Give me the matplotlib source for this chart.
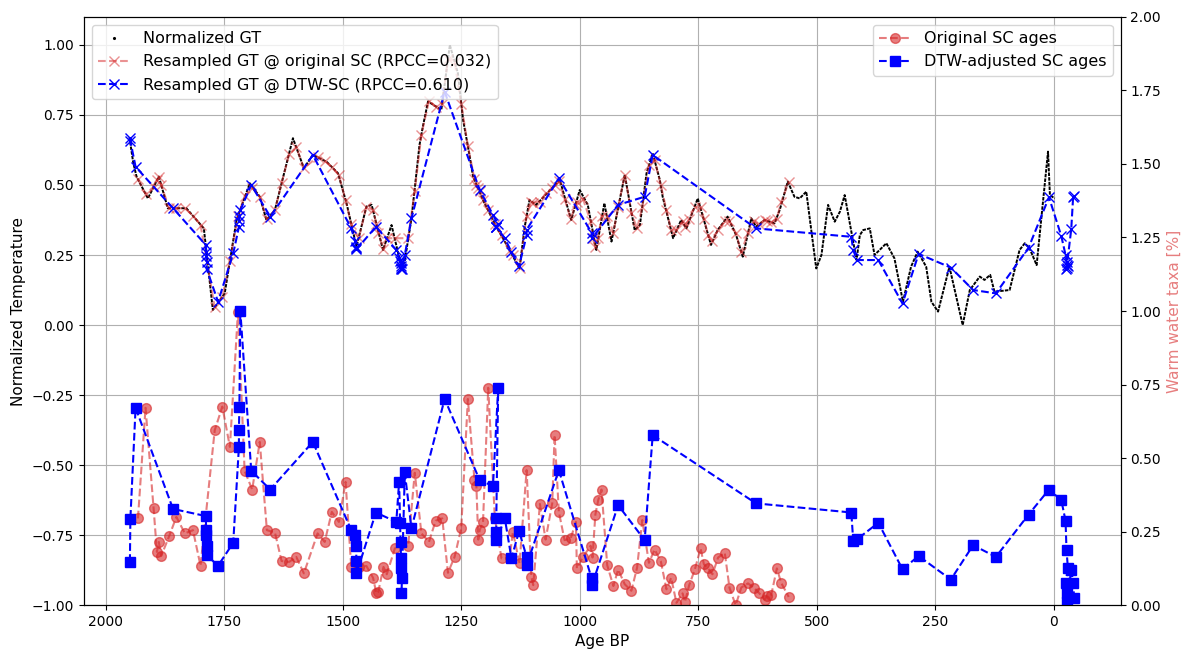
import matplotlib
matplotlib.use("Agg")
import matplotlib.pyplot as plt
from matplotlib.lines import Line2D

# Normalized GT (temperature) curve vertices
gt_age = [1950, 1942, 1935, 1911, 1888, 1869, 1830, 1793, 1774, 1749,
          1724, 1696, 1675, 1661, 1643, 1629, 1605, 1582, 1563, 1534,
          1510, 1492, 1471, 1450, 1439, 1415, 1397, 1383, 1376, 1369,
          1355, 1338, 1331, 1320, 1292, 1274, 1257, 1246, 1232, 1225,
          1204, 1176, 1148, 1127, 1116, 1106, 1092, 1042, 1018, 1000,
          983, 965, 948, 933, 905, 884, 873, 859, 846, 831,
          825, 803, 786, 775, 751, 723, 709, 688, 670, 656,
          638, 628, 610, 589, 578, 561, 547, 536, 522, 501,
          490, 476, 462, 451, 441, 416, 409, 402, 388, 378,
          353, 336, 318, 301, 287, 269, 258, 244, 220, 192,
          177, 156, 146, 134, 125, 93, 72, 61, 51, 36,
          12, 8, -2]
gt_val = [0.67, 0.58, 0.53, 0.452, 0.530, 0.417, 0.417, 0.345, 0.054, 0.113,
          0.375, 0.506, 0.458, 0.375, 0.411, 0.506, 0.667, 0.560, 0.607, 0.583,
          0.542, 0.435, 0.280, 0.423, 0.429, 0.268, 0.357, 0.256, 0.208, 0.23,
          0.38, 0.643, 0.708, 0.798, 0.768, 1.0, 0.899, 0.732, 0.601, 0.530,
          0.446, 0.351, 0.268, 0.202, 0.351, 0.446, 0.429, 0.518, 0.375, 0.482,
          0.429, 0.268, 0.435, 0.298, 0.536, 0.339, 0.357, 0.542, 0.613, 0.518,
          0.458, 0.310, 0.375, 0.345, 0.452, 0.286, 0.339, 0.387, 0.321, 0.244,
          0.381, 0.351, 0.375, 0.363, 0.411, 0.512, 0.458, 0.452, 0.476, 0.202,
          0.25, 0.429, 0.369, 0.405, 0.464, 0.232, 0.321, 0.339, 0.345, 0.25,
          0.292, 0.238, 0.083, 0.208, 0.262, 0.208, 0.083, 0.048, 0.208, 0.0,
          0.125, 0.173, 0.161, 0.179, 0.119, 0.125, 0.268, 0.292, 0.274, 0.214,
          0.619, 0.464, 0.452]

# Original SC samples: ages, warm water taxa, GT resampled at those ages
sc_age = [1932, 1916, 1899, 1892, 1888, 1883, 1866, 1851, 1833, 1816,
          1800, 1770, 1754, 1738, 1721, 1707, 1691, 1675, 1660, 1643,
          1629, 1613, 1598, 1582, 1553, 1538, 1523, 1508, 1494, 1482,
          1466, 1450, 1436, 1429, 1425, 1414, 1407, 1390, 1362, 1348,
          1334, 1318, 1304, 1290, 1278, 1264, 1250, 1236, 1222, 1218,
          1214, 1211, 1204, 1193, 1179, 1165, 1148, 1141, 1127, 1112,
          1102, 1098, 1084, 1072, 1058, 1053, 1044, 1032, 1019, 1008,
          1006, 993, 977, 973, 967, 961, 954, 942, 929, 919,
          905, 891, 879, 868, 854, 842, 829, 817, 807, 796,
          783, 778, 769, 757, 745, 738, 729, 720, 708, 694,
          684, 671, 659, 645, 633, 622, 610, 605, 596, 584,
          575, 559]
sc_taxa = [0.295, 0.671, 0.329, 0.181, 0.215, 0.167, 0.235, 0.300, 0.244, 0.255,
           0.134, 0.595, 0.675, 0.538, 0.998, 0.457, 0.393, 0.555, 0.255, 0.247,
           0.150, 0.147, 0.164, 0.108, 0.244, 0.215, 0.317, 0.283, 0.419, 0.130,
           0.130, 0.133, 0.093, 0.040, 0.045, 0.130, 0.105, 0.193, 0.201, 0.450,
           0.244, 0.215, 0.287, 0.295, 0.110, 0.164, 0.261, 0.701, 0.425, 0.405,
           0.223, 0.255, 0.283, 0.739, 0.295, 0.159, 0.159, 0.249, 0.142, 0.459,
           0.096, 0.068, 0.344, 0.223, 0.346, 0.578, 0.317, 0.221, 0.227, 0.283,
           0.125, 0.164, 0.202, 0.162, 0.308, 0.357, 0.393, 0.136, 0.065, 0.121,
           0.071, 0.049, 0.127, 0.289, 0.144, 0.189, 0.150, 0.054, 0.093, 0.008,
           0.040, 0.011, 0.068, 0.122, 0.193, 0.139, 0.125, 0.105, 0.162, 0.178,
           0.059, 0.0, 0.060, 0.074, 0.060, 0.042, 0.019, 0.031, 0.034, 0.125,
           0.076, 0.028]
sc_gt = [0.52, 0.468, 0.493, 0.516, 0.530, 0.50, 0.417, 0.417, 0.417, 0.39,
         0.358, 0.063, 0.10, 0.23, 0.39, 0.46, 0.49, 0.458, 0.377, 0.411,
         0.506, 0.61, 0.635, 0.560, 0.60, 0.586, 0.563, 0.535, 0.445, 0.36,
         0.31, 0.423, 0.41, 0.36, 0.33, 0.27, 0.31, 0.31, 0.31, 0.48,
         0.68, 0.80, 0.78, 0.79, 0.95, 0.94, 0.79, 0.64, 0.52, 0.50,
         0.49, 0.48, 0.446, 0.41, 0.36, 0.32, 0.268, 0.25, 0.202, 0.39,
         0.44, 0.437, 0.44, 0.47, 0.49, 0.50, 0.515, 0.45, 0.38, 0.43,
         0.44, 0.45, 0.37, 0.31, 0.28, 0.31, 0.39, 0.39, 0.33, 0.42,
         0.536, 0.40, 0.345, 0.42, 0.57, 0.59, 0.50, 0.41, 0.34, 0.34,
         0.37, 0.35, 0.38, 0.42, 0.42, 0.38, 0.32, 0.30, 0.34, 0.37,
         0.37, 0.33, 0.26, 0.33, 0.37, 0.36, 0.375, 0.372, 0.367, 0.38,
         0.44, 0.51]

# DTW-adjusted SC samples: ages, warm water taxa, GT resampled at those ages
dtw_age = [1949, 1948, 1937, 1858, 1789, 1788, 1788, 1787, 1787, 1763,
           1731, 1719, 1719, 1718, 1716, 1693, 1653, 1563, 1482, 1474,
           1472, 1471, 1471, 1430, 1387, 1381, 1379, 1378, 1377, 1376,
           1375, 1376, 1369, 1355, 1285, 1211, 1183, 1172, 1176, 1176,
           1176, 1158, 1144, 1128, 1112, 1112, 1044, 975, 974, 919,
           863, 846, 628, 427, 423, 415, 370, 319, 285, 217,
           170, 122, 53, 10, -16, -25, -27, -30, -25, -27,
           -28, -37, -41, -43]
dtw_taxa = [0.147, 0.293, 0.671, 0.327, 0.303, 0.255, 0.24, 0.20, 0.17, 0.134,
            0.212, 0.538, 0.595, 0.675, 1.0, 0.457, 0.393, 0.555, 0.255, 0.24,
            0.20, 0.15, 0.108, 0.315, 0.283, 0.419, 0.28, 0.215, 0.159, 0.125,
            0.091, 0.042, 0.451, 0.261, 0.701, 0.425, 0.405, 0.739, 0.295, 0.25,
            0.22, 0.295, 0.159, 0.252, 0.164, 0.136, 0.459, 0.092, 0.068, 0.340,
            0.221, 0.578, 0.346, 0.315, 0.219, 0.224, 0.280, 0.122, 0.167, 0.087,
            0.204, 0.164, 0.308, 0.393, 0.357, 0.287, 0.187, 0.125, 0.074, 0.040,
            0.011, 0.121, 0.076, 0.026]
dtw_gt = [0.667, 0.657, 0.565, 0.417, 0.286, 0.26, 0.245, 0.225, 0.20, 0.083,
          0.256, 0.35, 0.37, 0.39, 0.41, 0.50, 0.387, 0.607, 0.345, 0.30,
          0.28, 0.275, 0.27, 0.351, 0.268, 0.24, 0.23, 0.22, 0.21, 0.205,
          0.20, 0.20, 0.25, 0.381, 0.833, 0.482, 0.393, 0.36, 0.35, 0.35,
          0.35, 0.31, 0.26, 0.21, 0.32, 0.34, 0.524, 0.33, 0.31, 0.429,
          0.458, 0.607, 0.345, 0.315, 0.268, 0.232, 0.232, 0.077, 0.254, 0.205,
          0.125, 0.113, 0.276, 0.456, 0.318, 0.25, 0.225, 0.21, 0.20, 0.205,
          0.215, 0.342, 0.458, 0.46]

rpcc_orig = 0.032
rpcc_dtw = 0.610

fig = plt.figure(figsize=(11.82, 6.5), dpi=100)
ax = fig.add_axes([0.071, 0.069, 0.877, 0.905])

ax.plot(gt_age, gt_val, color='k', linestyle=(0, (1.8, 0.6)), linewidth=1.4, zorder=2)
ax.plot(sc_age, sc_gt, color='tab:red', linestyle='--', marker='x', markersize=7,
        linewidth=1.5, alpha=0.5, zorder=3)
ax.plot(dtw_age, dtw_gt, color='b', linestyle='--', marker='x', markersize=7,
        linewidth=1.5, zorder=4)

ax.set_xlim(2046, -141)
ax.set_ylim(-1.0, 1.1)
ax.set_yticks([-1.0, -0.75, -0.5, -0.25, 0.0, 0.25, 0.5, 0.75, 1.0])
ax.set_xlabel('Age BP', fontsize=11)
ax.set_ylabel('Normalized Temperature', fontsize=11)
ax.tick_params(labelsize=10)
ax.grid(True, color='#b0b0b0', linewidth=0.8)

h1 = [Line2D([], [], color='k', marker='.', linestyle='none', markersize=2.5),
      Line2D([], [], color='tab:red', linestyle='--', marker='x', markersize=7, alpha=0.5),
      Line2D([], [], color='b', linestyle='--', marker='x', markersize=7)]
l1 = ['Normalized GT',
      f'Resampled GT @ original SC (RPCC={rpcc_orig:.3f})',
      f'Resampled GT @ DTW-SC (RPCC={rpcc_dtw:.3f})']
ax.legend(h1, l1, loc='upper left', fontsize=11.5)

ax2 = ax.twinx()
ax2.plot(sc_age, sc_taxa, color='tab:red', linestyle='--', marker='o', markersize=7,
         linewidth=1.5, alpha=0.6, label='Original SC ages')
ax2.plot(dtw_age, dtw_taxa, color='b', linestyle='--', marker='s', markersize=7,
         linewidth=1.5, label='DTW-adjusted SC ages')
ax2.set_ylim(0, 2.0)
ax2.set_yticks([0, 0.25, 0.5, 0.75, 1.0, 1.25, 1.5, 1.75, 2.0])
ax2.set_yticklabels([f'{v:.2f}' for v in [0, 0.25, 0.5, 0.75, 1.0, 1.25, 1.5, 1.75, 2.0]])
ax2.set_ylabel('Warm water taxa [%]', color='tab:red', alpha=0.6, fontsize=11)
ax2.tick_params(labelsize=10)
ax2.legend(loc='upper right', fontsize=11.5)

fig.savefig('out.png', dpi=100)
